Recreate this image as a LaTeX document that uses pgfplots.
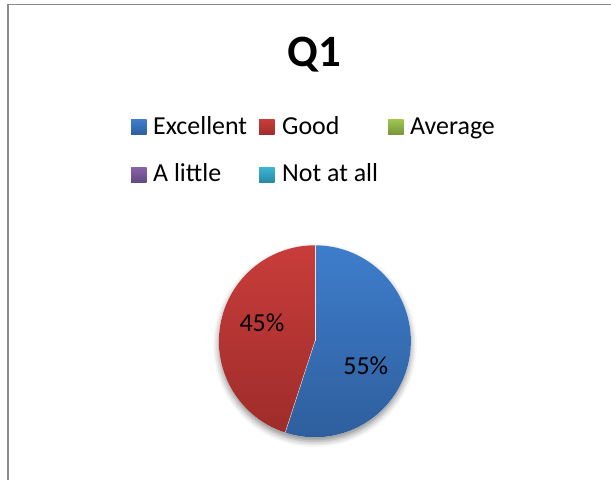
\documentclass[border=0pt]{standalone}
\usepackage{pgfplots}
\pgfplotsset{compat=1.18}
\usepackage{pgfplotstable}
\usepackage{fontspec}
\setmainfont{Carlito}
\usetikzlibrary{shadows.blur}

\definecolor{exTop}{HTML}{3E7DCC}
\definecolor{exBot}{HTML}{2E5E9C}
\definecolor{gdTop}{HTML}{C83D3B}
\definecolor{gdBot}{HTML}{9E2C2A}
\definecolor{avTop}{HTML}{9FC54F}
\definecolor{avBot}{HTML}{76933C}
\definecolor{alTop}{HTML}{8463A8}
\definecolor{alBot}{HTML}{62487F}
\definecolor{naTop}{HTML}{3BB3D4}
\definecolor{naBot}{HTML}{2A87A0}
\definecolor{frame}{HTML}{8A8A8A}

\pgfplotstableread[col sep=comma]{
label,value
Excellent,55
Good,45
Average,0
A little,0
Not at all,0
}\piedata

\begin{document}
\begin{tikzpicture}[x=1bp,y=1bp]
\useasboundingbox (0,0) rectangle (611,480);
% chart frame
\draw[frame,line width=1.3bp] (8,0) -- (8,475.7) -- (611,475.7);
% title
\node[anchor=base,font=\fontsize{45}{50}\selectfont\bfseries,inner sep=0] at (314,413) {Q1};

% values and angles
\pgfplotstablegetelem{0}{value}\of\piedata \let\vA\pgfplotsretval
\pgfplotstablegetelem{1}{value}\of\piedata \let\vB\pgfplotsretval
\pgfplotstablegetelem{2}{value}\of\piedata \let\vC\pgfplotsretval
\pgfplotstablegetelem{3}{value}\of\piedata \let\vD\pgfplotsretval
\pgfplotstablegetelem{4}{value}\of\piedata \let\vE\pgfplotsretval
\pgfmathsetmacro\tot{\vA+\vB+\vC+\vD+\vE}
\pgfmathsetmacro\fA{\vA/\tot}
\pgfmathsetmacro\fB{\vB/\tot}
\pgfmathsetmacro\aA{90}
\pgfmathsetmacro\aB{90-360*\fA}
\pgfmathsetmacro\aC{\aB-360*\fB}
\pgfmathtruncatemacro\pA{round(100*\fA)}
\pgfmathtruncatemacro\pB{round(100*\fB)}

\begin{axis}[at={(228,44.5)}, anchor=south west, scale only axis,
  width=192bp, height=192bp, xmin=-1, xmax=1, ymin=-1, ymax=1,
  hide axis, clip=false]
  % shadow
  \path[blur shadow={shadow xshift=0bp, shadow yshift=-4bp, shadow blur radius=6bp, shadow opacity=45}, fill=white]
    (axis cs:0,0) circle[radius=96bp];
  % Excellent
  \shade[top color=exTop, bottom color=exBot]
    (axis cs:0,0) -- (axis cs:{cos(\aA)},{sin(\aA)}) arc[start angle=\aA, end angle=\aB, radius=96bp] -- cycle;
  % Good
  \shade[top color=gdTop, bottom color=gdBot]
    (axis cs:0,0) -- (axis cs:{cos(\aB)},{sin(\aB)}) arc[start angle=\aB, end angle=\aC, radius=96bp] -- cycle;
  \draw[white!80!gray, line width=0.4bp] (axis cs:0,0) -- (axis cs:{cos(\aA)},{sin(\aA)});
  \draw[white!80!gray, line width=0.4bp] (axis cs:0,0) -- (axis cs:{cos(\aB)},{sin(\aB)});
  % data labels
  \node[font=\fontsize{26}{30}\selectfont] at (axis cs:0.531,-0.255) {\pA\%};
  \node[font=\fontsize{26}{30}\selectfont] at (axis cs:-0.552,0.193) {\pB\%};
\end{axis}

% legend
\begin{scope}[every node/.style={anchor=base west,inner sep=0,font=\fontsize{26}{30}\selectfont}]
  \shade[top color=exTop, bottom color=exBot] (131,345) rectangle (146.5,360.5);
  \node at (153,345) {Excellent};
  \shade[top color=gdTop, bottom color=gdBot] (259,345) rectangle (274.5,360.5);
  \node at (282,345) {Good};
  \shade[top color=avTop, bottom color=avBot] (388,345) rectangle (403.5,360.5);
  \node at (410,345) {Average};
  \shade[top color=alTop, bottom color=alBot] (131,297) rectangle (146.5,312.5);
  \node at (153,298) {A little};
  \shade[top color=naTop, bottom color=naBot] (259,297) rectangle (274.5,312.5);
  \node at (282,298) {Not at all};
\end{scope}
\end{tikzpicture}
\end{document}
